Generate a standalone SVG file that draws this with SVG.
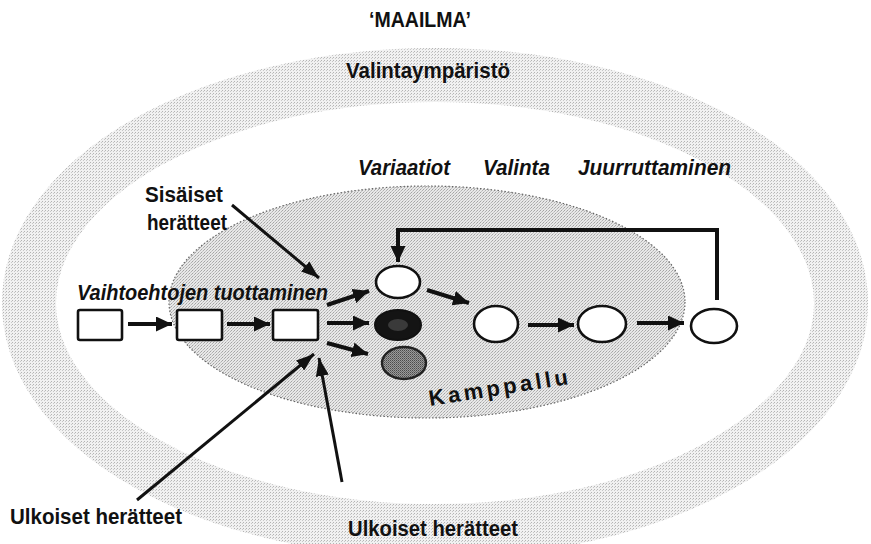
<svg xmlns="http://www.w3.org/2000/svg" width="871" height="544" viewBox="0 0 871 544">
  <style>
    .lbl { font-family: "Liberation Sans", Arial, sans-serif; font-weight: bold; font-size: 22.5px; fill: #111; }
    .ital { font-style: italic; }
    .box { fill: #fff; stroke: #111; stroke-width: 2.6; }
    .node { fill: #fff; stroke: #111; stroke-width: 2.6; }
    .arrow { fill: none; stroke: #111; stroke-width: 4; marker-end: url(#head); }
    .thin { fill: none; stroke: #111; stroke-width: 3; marker-end: url(#headLong); }
  </style>
  <defs>
    <!-- light halftone texture for the surrounding ring -->
    <pattern id="dotsLight" width="3" height="3" patternUnits="userSpaceOnUse">
      <rect width="3" height="3" fill="#f1f1f1"/>
      <rect x="0" y="0" width="1" height="1" fill="#b4b4b4"/>
      <rect x="2" y="1" width="1" height="1" fill="#c8c8c8"/>
    </pattern>
    <!-- slightly denser texture for the inner area -->
    <pattern id="dotsMid" width="3" height="3" patternUnits="userSpaceOnUse">
      <rect width="3" height="3" fill="#e8e8e8"/>
      <rect x="0" y="0" width="1" height="1" fill="#a4a4a4"/>
      <rect x="2" y="1" width="1" height="1" fill="#b2b2b2"/>
      <rect x="1" y="2" width="1" height="1" fill="#c6c6c6"/>
    </pattern>
    <!-- dark texture for the grey variation -->
    <pattern id="dotsDark" width="2" height="2" patternUnits="userSpaceOnUse">
      <rect width="2" height="2" fill="#9a9a9a"/>
      <rect x="0" y="0" width="1" height="1" fill="#4a4a4a"/>
      <rect x="1" y="1" width="1" height="1" fill="#6a6a6a"/>
    </pattern>
    <marker id="head" viewBox="0 0 16 15" refX="16" refY="7.5" markerWidth="16" markerHeight="15" markerUnits="userSpaceOnUse" orient="auto">
      <path d="M0,0 L16,7.5 L0,15 z" fill="#111"/>
    </marker>
    <marker id="headLong" viewBox="0 0 18 13" refX="18" refY="6.5" markerWidth="18" markerHeight="13" markerUnits="userSpaceOnUse" orient="auto">
      <path d="M0,0 L18,6.5 L0,13 z" fill="#111"/>
    </marker>
  </defs>

  <rect width="871" height="544" fill="#fff"/>

  <!-- selection environment ring -->
  <g id="environment">
    <ellipse cx="435" cy="303" rx="406" ry="228" fill="none" stroke="url(#dotsLight)" stroke-width="54"/>
  </g>

  <!-- organisation area -->
  <g id="kamppallu-area">
    <ellipse cx="427" cy="302" rx="258" ry="116" fill="url(#dotsMid)" stroke="#666" stroke-width="1.2" stroke-dasharray="1.5 2"/>
  </g>

  <!-- titles -->
  <g id="titles">
    <text class="lbl" x="420" y="27" text-anchor="middle" font-size="20" textLength="102" lengthAdjust="spacingAndGlyphs">‘MAAILMA’</text>
    <text class="lbl" x="346" y="78" textLength="164" lengthAdjust="spacingAndGlyphs">Valintaympäristö</text>
    <text class="lbl ital" x="358" y="175" textLength="92" lengthAdjust="spacingAndGlyphs">Variaatiot</text>
    <text class="lbl ital" x="483" y="175" textLength="67" lengthAdjust="spacingAndGlyphs">Valinta</text>
    <text class="lbl ital" x="578" y="175" textLength="153" lengthAdjust="spacingAndGlyphs">Juurruttaminen</text>
    <text class="lbl ital" x="77" y="300" textLength="251" lengthAdjust="spacingAndGlyphs">Vaihtoehtojen tuottaminen</text>
    <text class="lbl" x="145" y="202" textLength="78" lengthAdjust="spacingAndGlyphs">Sisäiset</text>
    <text class="lbl" x="147" y="230" textLength="80" lengthAdjust="spacingAndGlyphs">herätteet</text>
    <text class="lbl" x="10" y="524" textLength="172" lengthAdjust="spacingAndGlyphs">Ulkoiset herätteet</text>
    <text class="lbl" x="348" y="536" textLength="170" lengthAdjust="spacingAndGlyphs">Ulkoiset herätteet</text>
    <text x="430" y="406" transform="rotate(-9 430 406)" font-family="Liberation Sans, Arial, sans-serif" font-weight="bold" font-size="22" letter-spacing="3.5" fill="#111">Kamppallu</text>
  </g>

  <!-- alternative generation steps -->
  <g id="alt1"><rect class="box" x="78" y="310" width="44" height="30" rx="2"/></g>
  <g id="alt2"><rect class="box" x="177" y="310" width="45" height="30" rx="2"/></g>
  <g id="alt3"><rect class="box" x="273" y="310" width="45" height="30" rx="2"/></g>

  <!-- variations -->
  <g id="var-white"><ellipse class="node" cx="398" cy="282" rx="22" ry="16"/></g>
  <g id="var-black"><ellipse cx="398" cy="325" rx="23" ry="15" fill="#141414" stroke="#111" stroke-width="2"/>
    <ellipse cx="398" cy="325" rx="10" ry="6" fill="#3a3a3a"/></g>
  <g id="var-grey"><ellipse cx="404" cy="363" rx="22" ry="16" fill="url(#dotsDark)" stroke="#222" stroke-width="2.4"/></g>

  <!-- selection and retention -->
  <g id="selection"><ellipse class="node" cx="496" cy="324" rx="22" ry="18"/></g>
  <g id="retention1"><ellipse class="node" cx="602" cy="324" rx="24" ry="18"/></g>
  <g id="retention2"><ellipse class="node" cx="714" cy="326" rx="23" ry="17"/></g>

  <!-- connectors -->
  <g id="connectors">
    <line class="arrow" x1="128" y1="324" x2="172" y2="324"/>
    <line class="arrow" x1="227" y1="324" x2="270" y2="324"/>
    <line class="arrow" x1="327" y1="305" x2="369" y2="291"/>
    <line class="arrow" x1="327" y1="323" x2="369" y2="323"/>
    <line class="arrow" x1="327" y1="343" x2="368" y2="354"/>
    <line class="arrow" x1="427" y1="290" x2="469" y2="303"/>
    <line class="arrow" x1="528" y1="325" x2="574" y2="325"/>
    <line class="arrow" x1="637" y1="323" x2="684" y2="323"/>
    <path class="arrow" d="M717,300 V230 H398 V262" stroke-width="3.5"/>
    <line class="thin" x1="232" y1="205" x2="319" y2="278"/>
    <line class="thin" x1="137" y1="500" x2="314" y2="354"/>
    <line class="thin" x1="342" y1="482" x2="319" y2="358"/>
  </g>
</svg>
